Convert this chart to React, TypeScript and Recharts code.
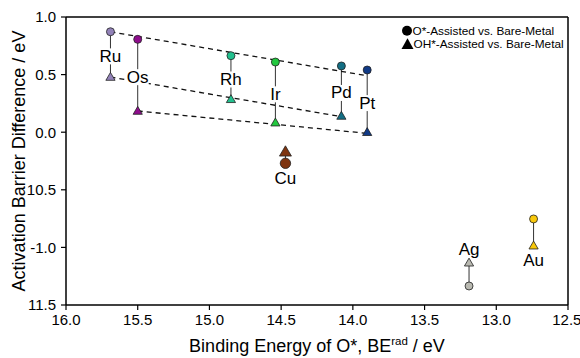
import React from 'react';
import { ComposedChart, XAxis, YAxis, Line, Scatter, ReferenceLine, Label } from 'recharts';

// Metals and their O* binding energies (eV)
const metals = ['Ru', 'Os', 'Rh', 'Ir', 'Cu', 'Pd', 'Pt', 'Ag', 'Au'];
const bindingEnergy = [15.69, 15.5, 14.85, 14.54, 14.47, 14.08, 13.9, 13.19, 12.74];

// Activation barrier differences (eV)
const oAssisted = [0.872, 0.806, 0.664, 0.609, -0.27, 0.575, 0.54, -1.335, -0.753];
const ohAssisted = [0.479, 0.184, 0.286, 0.083, -0.17, 0.141, 0.0, -1.133, -0.985];

// Where each metal's name sits relative to its pair of markers
const labelPlacement = ['mid', 'mid', 'mid', 'mid', 'below', 'mid', 'mid', 'above', 'below'];

const metalColors = ['#9282b8', '#8e0c8c', '#22c08e', '#22c83e', '#7e3410', '#136e84', '#113a86', '#b9b9b1', '#f8c80a'];
const markerScale = [1, 1, 1, 1, 1.3, 1, 1, 1, 1];

// Dashed trend lines: [BE start, value start, BE end, value end]
const trendO = [15.69, 0.872, 13.9, 0.49];
const trendOhUpper = [15.69, 0.479, 14.08, 0.135];
const trendOhLower = [15.5, 0.184, 13.9, -0.01];

const xTicks = [16.0, 15.5, 15.0, 14.5, 14.0, 13.5, 13.0, 12.5];
const yTicks = [1.0, 0.5, 0.0, -0.5, -1.0, -1.5];
const yTickLabels = ['1.0', '0.5', '0.0', '10.5', '-1.0', '11.5'];

const FONT = '"Liberation Sans", Arial, Helvetica, sans-serif';

const rows = metals.map((name, i) => ({
  name,
  be: bindingEnergy[i],
  o: oAssisted[i],
  oh: ohAssisted[i],
  color: metalColors[i],
  scale: markerScale[i],
  place: labelPlacement[i],
}));

const circleData = rows.map((r) => ({ be: r.be, v: r.o, color: r.color, scale: r.scale }));
const triangleData = rows.map((r) => ({ be: r.be, v: r.oh, color: r.color, scale: r.scale }));
const labelData = rows.map((r) => {
  let v = (r.o + r.oh) / 2;
  if (r.place === 'below') v = Math.min(r.o, r.oh);
  if (r.place === 'above') v = Math.max(r.o, r.oh);
  return { be: r.be, v, name: r.name, place: r.place };
});

const trendSeries = [trendO, trendOhUpper, trendOhLower].map((t) => [
  { be: t[0], v: t[1] },
  { be: t[2], v: t[3] },
]);

const renderCircle = (props: any) => {
  const { cx, cy, payload } = props;
  if (cx == null || cy == null) return <g />;
  return <circle cx={cx} cy={cy} r={4 * payload.scale} fill={payload.color} stroke="#222" strokeWidth={0.8} />;
};

const renderTriangle = (props: any) => {
  const { cx, cy, payload } = props;
  if (cx == null || cy == null) return <g />;
  const s = payload.scale;
  const pts = `${cx},${cy - 4.6 * s} ${cx - 4.6 * s},${cy + 3.3 * s} ${cx + 4.6 * s},${cy + 3.3 * s}`;
  return <polygon points={pts} fill={payload.color} stroke="#222" strokeWidth={0.8} />;
};

const renderName = (props: any) => {
  const { cx, cy, payload } = props;
  if (cx == null || cy == null) return <g />;
  let ty = cy + 2;
  if (payload.place === 'below') ty = cy + 15;
  if (payload.place === 'above') ty = cy - 13;
  const w = payload.name.length * 10 + 2;
  return (
    <g>
      <rect x={cx - w / 2} y={ty - 8} width={w} height={16} fill="#fff" />
      <text x={cx} y={ty} textAnchor="middle" dominantBaseline="central" fontSize={17} fontFamily={FONT} fill="#000">
        {payload.name}
      </text>
    </g>
  );
};

const XTitle = (props: any) => {
  const vb = props.viewBox || { x: 66, y: 305, width: 502, height: 53 };
  return (
    <text x={vb.x + vb.width / 2} y={vb.y + 47} textAnchor="middle" fontSize={18} fontFamily={FONT} fill="#000">
      Binding Energy of O*, BE
      <tspan fontSize={11.5} dy={-7}>rad</tspan>
      <tspan dy={7}> / eV</tspan>
    </text>
  );
};

const YTitle = (props: any) => {
  const vb = props.viewBox || { x: 0, y: 17, width: 66, height: 288 };
  const cy = vb.y + vb.height / 2;
  return (
    <text
      x={19}
      y={cy}
      transform={`rotate(-90, 19, ${cy})`}
      textAnchor="middle"
      dominantBaseline="central"
      fontSize={18}
      fontFamily={FONT}
      fill="#000"
    >
      Activation Barrier Difference / eV
    </text>
  );
};

export default function App() {
  return (
    <div style={{ position: 'absolute', left: 0, top: 0, width: 580, height: 358, background: '#fff' }}>
      <ComposedChart width={580} height={358} margin={{ top: 17, right: 12, bottom: 0, left: 0 }}>
        <XAxis
          type="number"
          dataKey="be"
          domain={[12.5, 16]}
          reversed
          ticks={xTicks}
          tickFormatter={(v: number) => v.toFixed(1)}
          height={53}
          tickSize={5}
          tickMargin={4}
          axisLine={{ stroke: '#000', strokeWidth: 1.5 }}
          tickLine={{ stroke: '#000', strokeWidth: 1.2 }}
          tick={{ fill: '#000', fontSize: 15, fontFamily: FONT }}
          allowDataOverflow
        >
          <Label content={XTitle} />
        </XAxis>
        <YAxis
          type="number"
          dataKey="v"
          domain={[-1.5, 1]}
          ticks={yTicks}
          tickFormatter={(v: number) => yTickLabels[yTicks.indexOf(v)] ?? String(v)}
          width={66}
          tickSize={5}
          tickMargin={5}
          axisLine={{ stroke: '#000', strokeWidth: 1.5 }}
          tickLine={{ stroke: '#000', strokeWidth: 1.2 }}
          tick={{ fill: '#000', fontSize: 15, fontFamily: FONT }}
          allowDataOverflow
        >
          <Label content={YTitle} />
        </YAxis>
        <ReferenceLine y={1} stroke="#000" strokeWidth={1.5} />
        <ReferenceLine x={12.5} stroke="#000" strokeWidth={1.5} />

        {rows.map((r) => (
          <Line
            key={`link-${r.name}`}
            data={[
              { be: r.be, v: r.o },
              { be: r.be, v: r.oh },
            ]}
            dataKey="v"
            stroke="#333"
            strokeWidth={1}
            dot={false}
            activeDot={false}
            isAnimationActive={false}
          />
        ))}

        {trendSeries.map((d, i) => (
          <Line
            key={`trend-${i}`}
            data={d}
            dataKey="v"
            stroke="#111"
            strokeWidth={1.3}
            strokeDasharray="5 4"
            dot={false}
            activeDot={false}
            isAnimationActive={false}
          />
        ))}

        <Scatter data={labelData} dataKey="v" shape={renderName} isAnimationActive={false} />
        <Scatter data={circleData} dataKey="v" shape={renderCircle} isAnimationActive={false} />
        <Scatter data={triangleData} dataKey="v" shape={renderTriangle} isAnimationActive={false} />
      </ComposedChart>

      <svg width={580} height={358} style={{ position: 'absolute', left: 0, top: 0, pointerEvents: 'none' }}>
        <circle cx={407} cy={30.7} r={5} fill="#000" />
        <text x={412.5} y={34.8} fontSize={11.8} fontFamily={FONT} fill="#000">
          O*-Assisted vs. Bare-Metal
        </text>
        <polygon points="407.5,38.3 401.5,49 413.5,49" fill="#000" />
        <text x={413.5} y={48.4} fontSize={11.8} fontFamily={FONT} fill="#000">
          OH*-Assisted vs. Bare-Metal
        </text>
      </svg>
    </div>
  );
}
